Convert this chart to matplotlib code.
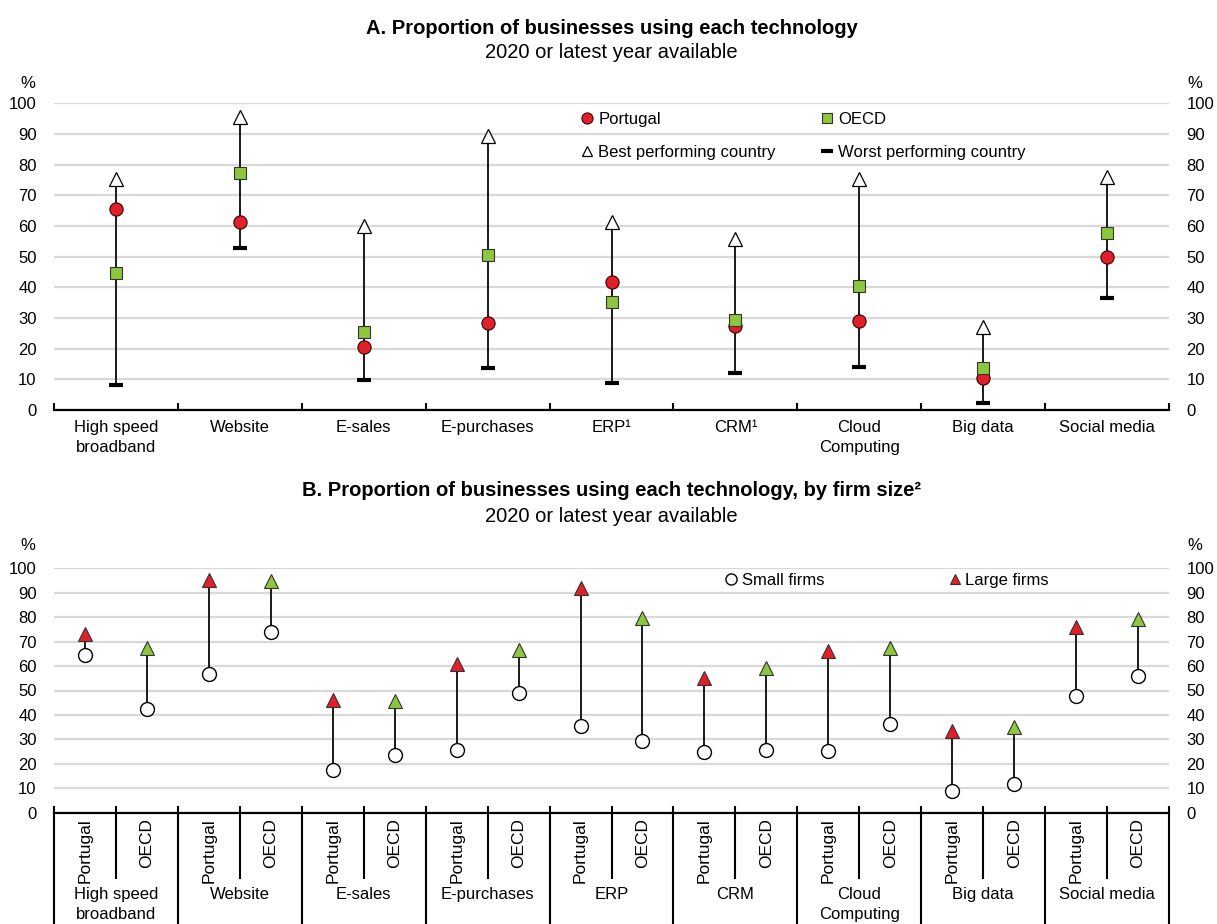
import matplotlib
matplotlib.use("Agg")
import matplotlib.pyplot as plt
from matplotlib.lines import Line2D
from matplotlib.transforms import blended_transform_factory

plt.rcParams['font.family'] = ['Liberation Sans', 'DejaVu Sans']

# ---- Panel A data: share of businesses using each technology (%)
technologies = ["High speed\nbroadband", "Website", "E-sales", "E-purchases", "ERP¹",
                "CRM¹", "Cloud\nComputing", "Big data", "Social media"]
portugal = [65.5, 61.4, 20.6, 28.3, 41.8, 27.5, 29.0, 10.5, 50.0]
oecd = [44.6, 77.2, 25.5, 50.5, 35.1, 29.3, 40.5, 13.6, 57.6]
best_country = [75.3, 95.6, 60.1, 89.3, 61.2, 55.8, 75.3, 27.2, 75.9]
worst_country = [8.1, 52.9, 9.8, 13.8, 8.9, 12.2, 14.1, 2.2, 36.6]

# ---- Panel B data: by firm size (%)
groups = ["High speed\nbroadband", "Website", "E-sales", "E-purchases", "ERP", "CRM",
          "Cloud\nComputing", "Big data", "Social media"]
members = ["Portugal", "OECD"]
portugal_small = [64.4, 56.8, 17.5, 25.7, 35.5, 24.8, 25.1, 9.0, 47.7]
portugal_large = [73.0, 95.1, 46.2, 60.8, 91.8, 55.0, 66.2, 33.6, 76.1]
oecd_small = [42.3, 74.1, 23.5, 49.1, 29.5, 25.8, 36.4, 11.7, 55.9]
oecd_large = [67.5, 94.7, 45.8, 66.7, 79.5, 59.1, 67.3, 35.2, 79.3]

RED = "#e0202a"
GREEN = "#8dc63f"
GRID = "#d9d9d9"
FS = 12          # ticks, legends, category labels
FS_ROT = 12.5    # rotated member labels
FS_TITLE = 14.5

W, H = 1217, 924
fig = plt.figure(figsize=(W / 100, H / 100), dpi=100)
axA = fig.add_axes([54 / W, 1 - 410 / H, 1115 / W, 306.7 / H])
axB = fig.add_axes([54 / W, 1 - 812.7 / H, 1115 / W, 244.4 / H])


def fig_y(px):
    return 1 - px / H


def style_axes(ax, n):
    ax.set_xlim(0, n)
    ax.set_ylim(0, 100)
    ax.set_yticks(range(0, 101, 10))
    ax.yaxis.grid(True, color=GRID, linewidth=1.6)
    ax.set_axisbelow(True)
    for s in ("top", "left", "right"):
        ax.spines[s].set_visible(False)
    ax.spines["bottom"].set_linewidth(1.6)
    ax.spines["bottom"].set_zorder(5)
    ax.tick_params(axis="y", left=False, right=False, length=0, labelleft=True,
                   labelright=True, labelsize=FS, pad=12.5)
    ax.tick_params(axis="x", which="major", direction="in", length=5, width=1.5,
                   labelbottom=False)


# ---------------- Panel A ----------------
n = len(technologies)
style_axes(axA, n)
xa = [i + 0.5 for i in range(n)]
axA.set_xticks(range(n + 1))
axA.set_xticks(xa, minor=True)
axA.set_xticklabels(technologies, minor=True, fontsize=FS, linespacing=1.4)
axA.tick_params(axis="x", which="minor", length=0, pad=7)

for x, lo, hi in zip(xa, worst_country, best_country):
    axA.plot([x, x], [lo, hi], color="#1a1a1a", linewidth=1.4, zorder=2)
axA.plot(xa, worst_country, linestyle="none", marker="_", markersize=10.5, mew=3,
         color="black", zorder=3, clip_on=False)
axA.plot(xa, best_country, linestyle="none", marker="^", markersize=9.5,
         mfc="white", mec="black", mew=0.9, zorder=3, clip_on=False)
axA.plot(xa, portugal, linestyle="none", marker="o", markersize=9.5,
         mfc=RED, mec="#3a0000", mew=0.8, zorder=4, clip_on=False)
axA.plot(xa, oecd, linestyle="none", marker="s", markersize=9,
         mfc=GREEN, mec="#333333", mew=0.8, zorder=5, clip_on=False)

handlesA = [
    Line2D([], [], linestyle="none", marker="o", markersize=8, mfc=RED, mec="#3a0000", mew=0.8),
    Line2D([], [], linestyle="none", marker="^", markersize=7, mfc="white", mec="black", mew=0.9),
    Line2D([], [], linestyle="none", marker="s", markersize=7, mfc=GREEN, mec="#333333", mew=0.8),
    Line2D([], [], linestyle="none", marker="_", markersize=8, mew=3, color="black"),
]
labelsA = ["Portugal", "Best performing country", "OECD", "Worst performing country"]
axA.legend(handlesA, labelsA, ncol=2, loc="upper left", bbox_to_anchor=(0.471, 0.9716),
           frameon=False, fontsize=FS, handlelength=1.0, handletextpad=0.15,
           columnspacing=2.6, labelspacing=1.05, borderpad=0, borderaxespad=0)

fig.text(611.5 / W, fig_y(29), "A. Proportion of businesses using each technology",
         fontsize=FS_TITLE, fontweight="bold", ha="center", va="center")
fig.text(611.5 / W, fig_y(53), "2020 or latest year available",
         fontsize=FS_TITLE, ha="center", va="center")
fig.text(20 / W, fig_y(83), "%", fontsize=FS, ha="left", va="center")
fig.text(1187 / W, fig_y(83), "%", fontsize=FS, ha="left", va="center")

# ---------------- Panel B ----------------
m = len(groups) * len(members)
style_axes(axB, m)
axB.set_xticks(range(m + 1))
xb_pt = [2 * i + 0.5 for i in range(len(groups))]
xb_oe = [2 * i + 1.5 for i in range(len(groups))]

for xs, small, large, col in ((xb_pt, portugal_small, portugal_large, RED),
                              (xb_oe, oecd_small, oecd_large, GREEN)):
    for x, lo, hi in zip(xs, small, large):
        axB.plot([x, x], [lo, hi], color="#1a1a1a", linewidth=1.4, zorder=2)
    axB.plot(xs, small, linestyle="none", marker="o", markersize=10,
             mfc="white", mec="black", mew=1.0, zorder=3, clip_on=False)
    axB.plot(xs, large, linestyle="none", marker="^", markersize=9.5,
             mfc=col, mec="#333333", mew=0.8, zorder=4, clip_on=False)

handlesB = [
    Line2D([], [], linestyle="none", marker="o", markersize=8, mfc="white", mec="black", mew=1.0),
    Line2D([], [], linestyle="none", marker="^", markersize=7, mfc=RED, mec="#333333", mew=0.8),
]
axB.legend(handlesB, ["Small firms", "Large firms"], ncol=2, loc="upper left",
           bbox_to_anchor=(0.6, 0.981), frameon=False, fontsize=FS, handlelength=1.0,
           handletextpad=0.15, columnspacing=7.29, borderpad=0, borderaxespad=0)

# multi-level category axis below panel B
trB = blended_transform_factory(axB.transData, axB.transAxes)
for k in range(m + 1):
    y_end = -0.6 if k % 2 == 0 else -0.267
    axB.plot([k, k], [0, y_end], color="black", linewidth=1.5, transform=trB,
             clip_on=False, zorder=5)
for i in range(len(groups)):
    for j, name in enumerate(members):
        axB.text(2 * i + j + 0.5, -0.0217, name, transform=trB, rotation=90,
                 ha="center", va="top", fontsize=FS_ROT)
    axB.text(2 * i + 1, -0.305, groups[i], transform=trB, ha="center", va="top",
             fontsize=FS, linespacing=1.4)

fig.text(611.5 / W, fig_y(490), "B. Proportion of businesses using each technology, by firm size²",
         fontsize=FS_TITLE, fontweight="bold", ha="center", va="center")
fig.text(611.5 / W, fig_y(516), "2020 or latest year available",
         fontsize=FS_TITLE, ha="center", va="center")
fig.text(20 / W, fig_y(546), "%", fontsize=FS, ha="left", va="center")
fig.text(1187 / W, fig_y(546), "%", fontsize=FS, ha="left", va="center")

fig.savefig("out.png", dpi=100)
